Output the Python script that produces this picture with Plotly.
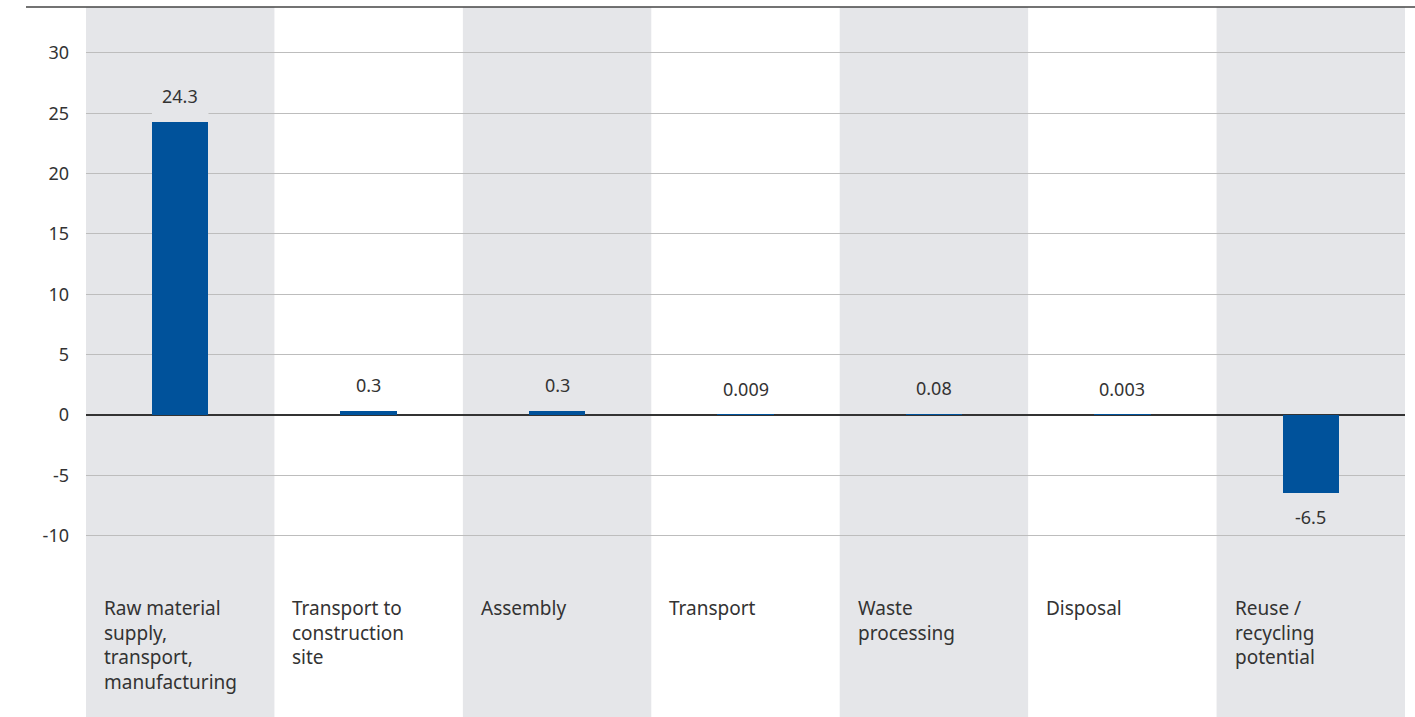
import plotly.graph_objects as go

categories = [
    "Raw material<br>supply,<br>transport,<br>manufacturing",
    "Transport to<br>construction<br>site",
    "Assembly",
    "Transport",
    "Waste<br>processing",
    "Disposal",
    "Reuse /<br>recycling<br>potential",
]
values = [24.3, 0.3, 0.3, 0.009, 0.08, 0.003, -6.5]
value_labels = ["24.3", "0.3", "0.3", "0.009", "0.08", "0.003", "-6.5"]
y_ticks = [30, 25, 20, 15, 10, 5, 0, -5, -10]

BAR = "#00529b"
BAND = "#e5e6e9"
TEXT = "#333333"
FONT = "Noto Sans"
BAR_W = 0.30

x = list(range(len(values)))

fig = go.Figure()
fig.add_trace(go.Bar(x=x, y=values, width=BAR_W, marker=dict(color=BAR, line=dict(width=0)),
                     hoverinfo="skip"))

shapes = []
for i in x:
    if i % 2 == 0:
        shapes.append(dict(type="rect", xref="x", yref="paper", x0=i - 0.5, x1=i + 0.5,
                           y0=0, y1=1, fillcolor=BAND, line=dict(width=0), layer="below"))
# label background covering gridlines just above bars
for i, v in zip(x, values):
    if v > 0:
        lo, hi = v, v + 1.2
        if any(lo < t < hi and t != 0 for t in y_ticks):
            shapes.append(dict(type="rect", xref="x", yref="y", x0=i - BAR_W / 2, x1=i + BAR_W / 2,
                               y0=lo, y1=hi, fillcolor=BAND if i % 2 == 0 else "white",
                               line=dict(width=0), layer="between"))
# top rule
shapes.append(dict(type="line", xref="paper", yref="paper", x0=-0.0455, x1=1.008, y0=1, y1=1,
                   line=dict(color="#444444", width=1.3)))

annotations = []
for i, (v, lab) in enumerate(zip(values, value_labels)):
    if v >= 0:
        annotations.append(dict(x=i, y=v, xref="x", yref="y", text=lab, showarrow=False,
                                yanchor="bottom", yshift=12, font=dict(size=18, color=TEXT, family=FONT)))
    else:
        annotations.append(dict(x=i, y=v, xref="x", yref="y", text=lab, showarrow=False,
                                yanchor="top", yshift=-10, font=dict(size=18, color=TEXT, family=FONT)))
for i, c in enumerate(categories):
    annotations.append(dict(x=i - 0.5 + 0.085, y=0.175, xref="x", yref="paper", text=c,
                            showarrow=False, xanchor="left", yanchor="top", align="left",
                            font=dict(size=19, color=TEXT, family=FONT)))

fig.update_layout(
    width=1415, height=717, autosize=False,
    margin=dict(l=86, r=10, t=7, b=0),
    paper_bgcolor="white", plot_bgcolor="white",
    showlegend=False, bargap=0,
    shapes=shapes, annotations=annotations,
    font=dict(family=FONT, color=TEXT, size=18),
    xaxis=dict(range=[-0.5, len(values) - 0.5], showticklabels=False, showgrid=False,
               zeroline=False, showline=False, ticks="", fixedrange=True),
    yaxis=dict(range=[-25.02, 33.8], tickvals=y_ticks, ticktext=[str(t) for t in y_ticks],
               showgrid=True, gridcolor="#bdbdbd", gridwidth=1,
               zeroline=True, zerolinecolor="#333333", zerolinewidth=1.5,
               showline=False, ticks="", ticklabelstandoff=16,
               tickfont=dict(size=18, color=TEXT, family=FONT), fixedrange=True),
)

fig.write_html("out.html", config={"displayModeBar": False})

with open("out.html", "r", encoding="utf-8") as f:
    html = f.read()
html = html.replace("<head>", "<head><style>html,body{margin:0;padding:0;overflow:hidden;}</style>", 1)
with open("out.html", "w", encoding="utf-8") as f:
    f.write(html)
